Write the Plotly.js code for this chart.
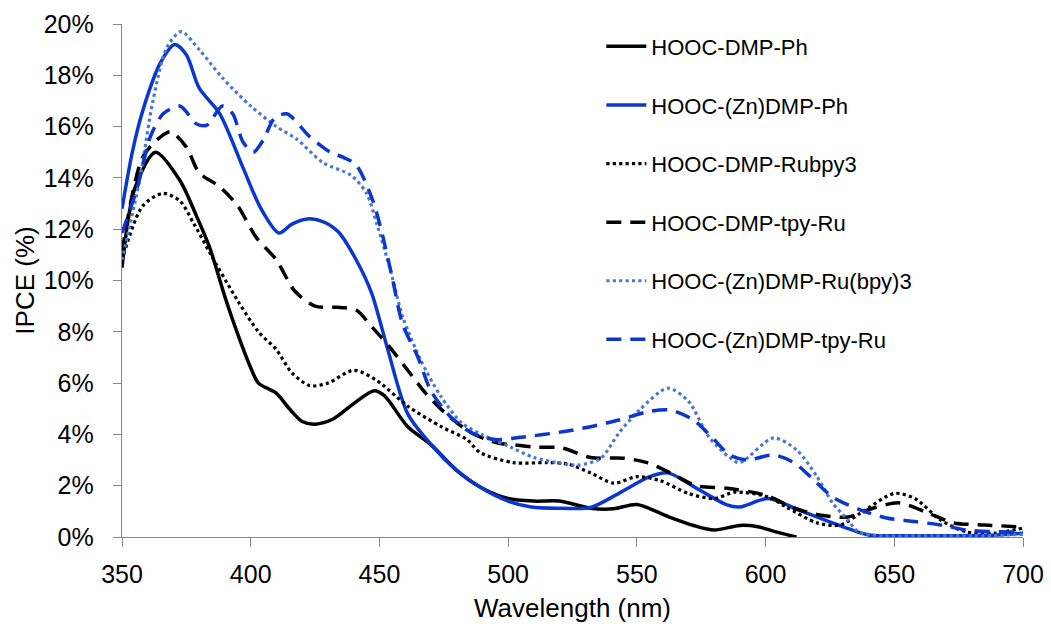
<!DOCTYPE html>
<html>
<head>
<meta charset="utf-8">
<script src="https://cdn.plot.ly/plotly-3.0.1.min.js"></script>
<style>html,body{margin:0;padding:0;background:#fff;}#chart{width:1051px;height:630px;}</style>
</head>
<body>
<div id="chart"></div>
<script>
// Series names
const seriesNames = ["HOOC-DMP-Ph","HOOC-(Zn)DMP-Ph","HOOC-DMP-Rubpy3","HOOC-DMP-tpy-Ru","HOOC-(Zn)DMP-Ru(bpy)3","HOOC-(Zn)DMP-tpy-Ru"];

// HOOC-DMP-Ph
const wl1 = [350,355,363,372.5,379,384,390,395,400,403,410,415,420,425,432,440,448,452,461,470,480,490,500,510,520,532,541,550,562,572,580,590,597,604,612];
const ipce1 = [10.5,13.6,15.0,13.9,12.5,11.3,9.36,7.9,6.6,6.0,5.6,5.0,4.5,4.4,4.6,5.2,5.7,5.5,4.3,3.6,2.6,1.9,1.5,1.4,1.4,1.12,1.1,1.27,0.8,0.45,0.27,0.45,0.4,0.2,0];

// HOOC-(Zn)DMP-Ph
const wl2 = [350,354,358,365,370.5,375,380,388,397,404,411,416,422,428,434,441,447,453,461,471,480,489,500,509,521,532,543,555,562,574,585,590,601,613,626,640,652,670,690,700];
const ipce2 = [12.8,15.0,16.6,18.5,19.2,18.8,17.5,16.5,14.4,12.8,11.85,12.2,12.4,12.3,11.9,10.8,9.5,7.4,4.8,3.5,2.6,1.95,1.4,1.17,1.12,1.15,1.7,2.35,2.5,1.85,1.25,1.17,1.5,1.05,0.55,0.08,0.05,0.05,0.08,0.15];

// HOOC-DMP-Rubpy3
const wl3 = [350,358,366,372.5,378,384,395,403,410,416,423,430,440,449,461,474,484,489,502,515,523,532,541,550,559,570,580,588,601,608,620,629,637,650,658,668,678,689,700];
const ipce3 = [10.8,12.9,13.4,13.1,12.2,11.1,9.2,8.0,7.3,6.4,5.9,6.0,6.5,6.1,5.1,4.3,3.8,3.3,2.9,2.9,2.85,2.5,2.1,2.35,2.2,1.7,1.5,1.75,1.56,1.17,0.55,0.47,0.94,1.7,1.5,0.66,0.2,0.15,0.35];

// HOOC-DMP-tpy-Ru
const wl4 = [350,358,365,369,375,380,388,395,402,410,417,425,435,441,447,454,461,468,477,486,496,502,511,521,532,545,554,563,573,585,600,611,621,632,642,652,663,673,685,700];
const ipce4 = [11.1,14.8,15.6,15.8,15.2,14.2,13.65,12.9,11.7,10.8,9.6,9.0,8.95,8.85,8.2,7.4,6.5,5.6,4.7,4.05,3.66,3.6,3.5,3.47,3.1,3.07,2.9,2.5,2.0,1.9,1.63,1.13,0.86,0.78,1.13,1.33,0.94,0.55,0.47,0.39];

// HOOC-(Zn)DMP-Ru(bpy)3
const wl5 = [350,357,362,367.5,373,380,389,400,410,418,428,439,445,449,454,459,466,474,482,490,501,510,519,527,536,543,551,562,570,578,586,590,603,612,620,626,632,636,645,660,680,700];
const ipce5 = [10.8,14.0,17.0,19.1,19.7,19.0,17.9,16.8,16.0,15.5,14.6,14.1,13.4,12.2,10.5,8.6,6.9,5.46,4.44,3.98,3.5,3.1,2.9,2.8,3.07,4.05,4.95,5.8,5.3,3.9,3.1,2.9,3.86,3.4,2.35,1.33,0.66,0.2,0.05,0.05,0.05,0.1];

// HOOC-(Zn)DMP-tpy-Ru
const wl6 = [350,356,361,366,372.5,379,383,389,393,397,401,405,409,414,423,431,436,441,447.5,451,455,459,465,470,477.5,486,495,506,521,532,543,555,563,572,580,586,593,603,611,619,626,637,647,658,668,678,691,700];
const ipce6 = [11.85,13.65,15.6,16.5,16.8,16.1,16.06,16.8,16.5,15.4,15.0,15.5,16.3,16.5,15.6,15.0,14.8,14.5,13.1,11.85,10.1,8.3,7.0,5.7,4.7,4.05,3.8,3.9,4.1,4.3,4.56,4.9,4.95,4.56,3.8,3.2,3.0,3.2,2.9,2.2,1.56,1.05,0.74,0.6,0.47,0.27,0.2,0.2];

const xTicks = [350,400,450,500,550,600,650,700];
const yTicks = [0,2,4,6,8,10,12,14,16,18,20];
const yTickText = ["0%","2%","4%","6%","8%","10%","12%","14%","16%","18%","20%"];

const wls = [wl1,wl2,wl3,wl4,wl5,wl6];
const vals = [ipce1,ipce2,ipce3,ipce4,ipce5,ipce6];
const styles = [
  {color:"#000000", width:3.5, dash:"solid"},
  {color:"#0a37d0", width:3.5, dash:"solid"},
  {color:"#000000", width:3.2, dash:"dot"},
  {color:"#000000", width:3.5, dash:"15px,9px"},
  {color:"#4a78d0", width:3.2, dash:"dot"},
  {color:"#0a37d0", width:3.5, dash:"15px,9px"}
];

const traces = seriesNames.map((n,i)=>({
  x: wls[i], y: vals[i], name: n, type: "scatter", mode: "lines",
  legendgroup: "g"+i,
  line: Object.assign({shape:"spline", smoothing:0.8}, styles[i])
}));

const FAM = "Liberation Sans, Arial, sans-serif";
const tickFont = {family:FAM, size:25, color:"#000"};
const titleFont = {family:FAM, size:26, color:"#000"};

const layout = {
  width:1051, height:630,
  margin:{l:122, r:28, t:24, b:93},
  paper_bgcolor:"#fff", plot_bgcolor:"#fff",
  showlegend:true,
  legend:{x:0.532, y:0.997, xanchor:"left", yanchor:"top", bgcolor:"rgba(0,0,0,0)",
    font:{family:FAM, size:22, color:"#000"}, tracegroupgap:27, itemwidth:40},
  xaxis:{range:[350,700], tickvals:xTicks, ticks:"outside", ticklen:9, tickcolor:"#868686",
    showline:true, linecolor:"#868686", linewidth:1.3, showgrid:false, zeroline:false,
    tickfont:tickFont, ticklabelstandoff:6,
    title:{text:"Wavelength (nm)", font:titleFont, standoff:11}},
  yaxis:{range:[0,20], tickvals:yTicks, ticktext:yTickText, ticks:"outside", ticklen:8, tickcolor:"#868686",
    showline:true, linecolor:"#868686", linewidth:1.3, showgrid:false, zeroline:false,
    tickfont:tickFont, ticklabelstandoff:14,
    title:{text:"IPCE (%)", font:titleFont, standoff:1}}
};

Plotly.newPlot("chart", traces, layout, {displayModeBar:false, staticPlot:true});
</script>
</body>
</html>
